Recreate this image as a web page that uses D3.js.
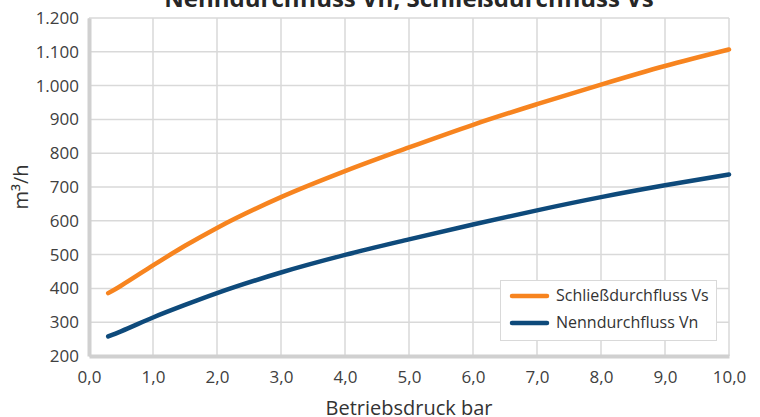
<!DOCTYPE html>
<html>
<head>
<meta charset="utf-8">
<script src="https://cdn.jsdelivr.net/npm/d3@7"></script>
<style>
  body { margin: 0; background: #fff; }
  svg { display: block; font-family: "Open Sans", sans-serif; }
</style>
</head>
<body>
<svg id="chart" width="760" height="417"></svg>
<script>
// pressure in bar
const pressure = [0.3, 0.5, 1, 1.5, 2, 3, 4, 5, 6, 7, 8, 9, 10];
// Schließdurchfluss Vs, m³/h
const closingFlow = [386, 408, 468, 526, 579, 670, 747, 817, 884, 945, 1003, 1058, 1107];
// Nenndurchfluss Vn, m³/h
const nominalFlow = [258, 273, 314, 351, 386, 447, 499, 545, 589, 631, 670, 705, 737];
const xTicks = [0, 1, 2, 3, 4, 5, 6, 7, 8, 9, 10];
const yTicks = [200, 300, 400, 500, 600, 700, 800, 900, 1000, 1100, 1200];
const seriesNames = ["Schließdurchfluss Vs", "Nenndurchfluss Vn"];
const seriesColors = ["#f7841f", "#0e4a7b"];

const svg = d3.select("#chart");
const margin = { top: 18, right: 31, bottom: 61, left: 89 };
const width = 760 - margin.left - margin.right;
const height = 417 - margin.top - margin.bottom;

const x = d3.scaleLinear().domain([0, 10]).range([0, width]);
const y = d3.scaleLinear().domain([200, 1200]).range([height, 0]);

const g = svg.append("g")
  .attr("transform", `translate(${margin.left},${margin.top})`);

// grid
g.append("g")
  .selectAll("line")
  .data(yTicks)
  .enter().append("line")
  .attr("x1", 0).attr("x2", width)
  .attr("y1", d => y(d)).attr("y2", d => y(d))
  .attr("stroke", "#d9d9d9").attr("stroke-width", 1.5);

g.append("g")
  .selectAll("line")
  .data(xTicks)
  .enter().append("line")
  .attr("x1", d => x(d)).attr("x2", d => x(d))
  .attr("y1", 0).attr("y2", height)
  .attr("stroke", "#d9d9d9").attr("stroke-width", 1.5);

// axes
const xAxis = g.append("g")
  .attr("transform", `translate(0,${height})`)
  .call(d3.axisBottom(x).tickValues(xTicks).tickSize(0).tickPadding(15)
    .tickFormat(d => d.toFixed(1).replace(".", ",")));
const yAxis = g.append("g")
  .call(d3.axisLeft(y).tickValues(yTicks).tickSize(0).tickPadding(10)
    .tickFormat(d => d3.format(",")(d).replace(",", ".")));

[xAxis, yAxis].forEach(a => {
  a.select(".domain").attr("stroke", "#d0d0d0").attr("stroke-width", 4);
  a.selectAll("text")
    .attr("fill", "#404040")
    .style("font-size", "17px")
    .style("font-family", "'Open Sans', sans-serif");
});

// lines
const line = d3.line()
  .x((d, i) => x(pressure[i]))
  .y(d => y(d))
  .curve(d3.curveMonotoneX);

[closingFlow, nominalFlow].forEach((vals, k) => {
  g.append("path")
    .datum(vals)
    .attr("fill", "none")
    .attr("stroke", seriesColors[k])
    .attr("stroke-width", 4.5)
    .attr("stroke-linecap", "round")
    .attr("d", line);
});

// title (clipped at top, as in the source)
svg.append("text")
  .attr("x", margin.left + width / 2)
  .attr("y", 7)
  .attr("text-anchor", "middle")
  .attr("fill", "#262626")
  .style("font-size", "24px")
  .style("font-weight", "bold")
  .text("Nenndurchfluss Vn, Schließdurchfluss Vs");

// axis titles
svg.append("text")
  .attr("x", margin.left + width / 2)
  .attr("y", 415)
  .attr("text-anchor", "middle")
  .attr("fill", "#333")
  .style("font-size", "20px")
  .text("Betriebsdruck bar");

svg.append("text")
  .attr("transform", `translate(28,${margin.top + height / 2}) rotate(-90)`)
  .attr("text-anchor", "middle")
  .attr("fill", "#333")
  .style("font-size", "20px")
  .text("m³/h");

// legend
const lg = svg.append("g").attr("transform", "translate(500,280)");
lg.append("rect")
  .attr("x", 0.5).attr("y", 0.5)
  .attr("width", 216).attr("height", 60)
  .attr("fill", "#fff")
  .attr("stroke", "#d9d9d9");
seriesNames.forEach((name, k) => {
  const cy = 16 + k * 27;
  lg.append("line")
    .attr("x1", 12).attr("x2", 47)
    .attr("y1", cy).attr("y2", cy)
    .attr("stroke", seriesColors[k])
    .attr("stroke-width", 4.5)
    .attr("stroke-linecap", "round");
  lg.append("text")
    .attr("x", 56).attr("y", cy + 5)
    .attr("fill", "#333")
    .style("font-size", "16px")
    .text(name);
});
</script>
</body>
</html>
